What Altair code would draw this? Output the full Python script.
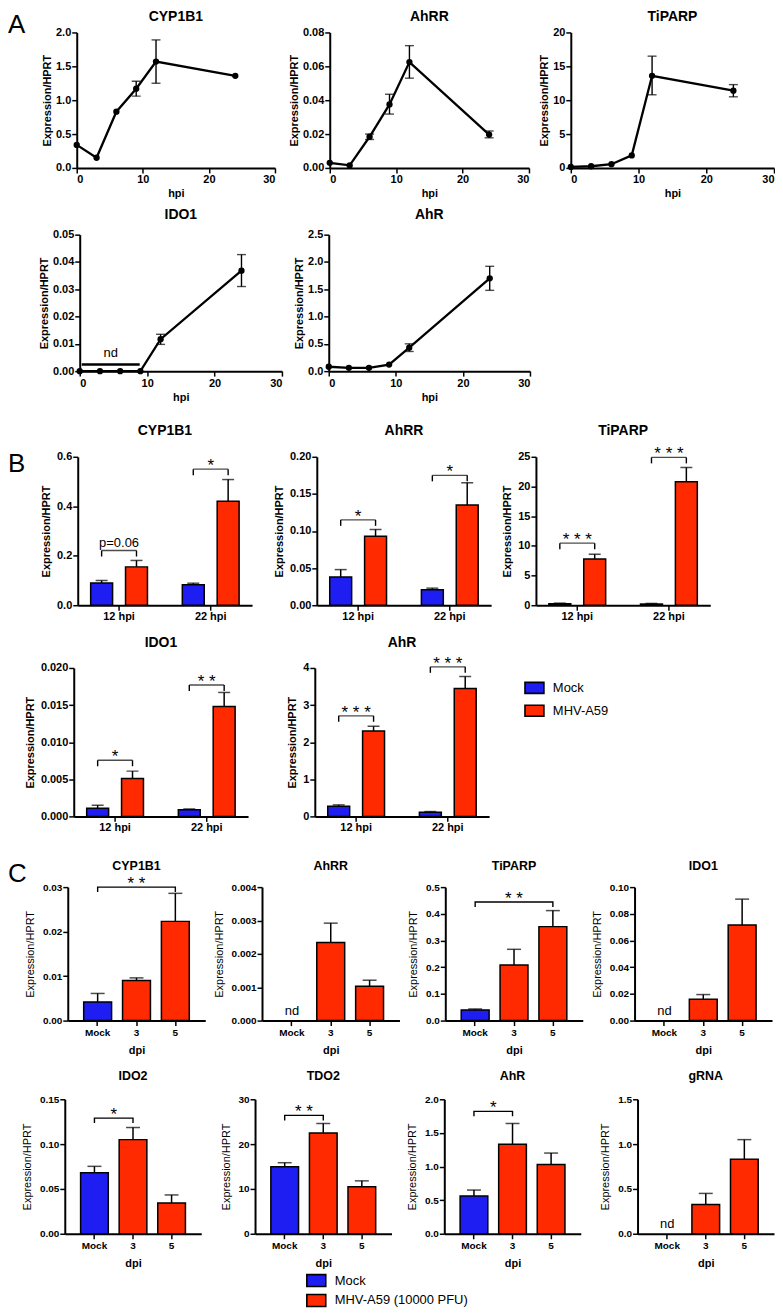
import altair as alt
import pandas as pd

FONT = "Liberation Sans"
BLUE = "#1e1ef2"
RED = "#ff2a00"
SERIES = ["Mock", "MHV"]
COLOR = alt.Scale(domain=SERIES, range=[BLUE, RED])

# ---------------- Section A : time course ----------------
hpi = [0, 3, 6, 9, 12, 24]

a_cyp1b1 = [0.34, 0.15, 0.83, 1.17, 1.57, 1.36]
a_cyp1b1_lo = [0.34, 0.15, 0.83, 1.06, 1.25, 1.36]
a_cyp1b1_hi = [0.34, 0.15, 0.83, 1.28, 1.89, 1.36]

a_ahrr = [0.0030, 0.0015, 0.0184, 0.0375, 0.0625, 0.0197]
a_ahrr_lo = [0.0030, 0.0015, 0.0168, 0.0318, 0.0530, 0.0178]
a_ahrr_hi = [0.0030, 0.0015, 0.0200, 0.0435, 0.0722, 0.0218]

a_tiparp = [0.15, 0.25, 0.55, 1.85, 13.6, 11.4]
a_tiparp_lo = [0.15, 0.25, 0.55, 1.85, 10.8, 10.5]
a_tiparp_hi = [0.15, 0.25, 0.55, 1.85, 16.5, 12.3]

a_ido1 = [0.0, 0.0, 0.0, 0.0, 0.0117, 0.0368]
a_ido1_lo = [0.0, 0.0, 0.0, 0.0, 0.0098, 0.0310]
a_ido1_hi = [0.0, 0.0, 0.0, 0.0, 0.0135, 0.0427]
a_ido1_nd_range = [0.3, 8.9]
a_ido1_nd_level = 0.0024

a_ahr = [0.08, 0.06, 0.06, 0.12, 0.43, 1.70]
a_ahr_lo = [0.08, 0.06, 0.06, 0.12, 0.36, 1.48]
a_ahr_hi = [0.08, 0.06, 0.06, 0.12, 0.50, 1.92]

# ---------------- Section B : 12 / 22 hpi ----------------
b_groups = ["12 hpi", "22 hpi"]

b_cyp1b1_mock = [0.090, 0.083]
b_cyp1b1_mock_top = [0.100, 0.089]
b_cyp1b1_mhv = [0.155, 0.420]
b_cyp1b1_mhv_top = [0.181, 0.508]
b_cyp1b1_sig = [0.221, 0.550]
b_cyp1b1_sig_text = ["p=0.06", "*"]

b_ahrr_mock = [0.038, 0.021]
b_ahrr_mock_top = [0.048, 0.023]
b_ahrr_mhv = [0.093, 0.135]
b_ahrr_mhv_top = [0.102, 0.165]
b_ahrr_sig = [0.115, 0.175]
b_ahrr_sig_text = ["*", "*"]

b_tiparp_mock = [0.25, 0.20]
b_tiparp_mock_top = [0.35, 0.30]
b_tiparp_mhv = [7.8, 20.8]
b_tiparp_mhv_top = [8.6, 23.2]
b_tiparp_sig = [10.45, 24.9]
b_tiparp_sig_text = ["***", "***"]

b_ido1_mock = [0.0011, 0.00088]
b_ido1_mock_top = [0.0015, 0.0010]
b_ido1_mhv = [0.0051, 0.0148]
b_ido1_mhv_top = [0.0061, 0.0167]
b_ido1_sig = [0.00756, 0.0177]
b_ido1_sig_text = ["*", "**"]

b_ahr_mock = [0.27, 0.11]
b_ahr_mock_top = [0.31, 0.13]
b_ahr_mhv = [2.30, 3.45]
b_ahr_mhv_top = [2.43, 3.77]
b_ahr_sig = [2.71, 4.03]
b_ahr_sig_text = ["***", "***"]

b_legend_labels = ["Mock", "MHV-A59"]

# ---------------- Section C : dpi ----------------
c_cats = ["Mock", "3", "5"]

c_cyp1b1 = [0.0042, 0.0090, 0.0223]
c_cyp1b1_top = [0.0061, 0.0096, 0.0286]
c_ahrr = [None, 0.00234, 0.00103]
c_ahrr_top = [None, 0.00292, 0.00121]
c_tiparp = [0.040, 0.208, 0.352]
c_tiparp_top = [0.0435, 0.267, 0.412]
c_ido1 = [None, 0.0159, 0.0716]
c_ido1_top = [None, 0.0195, 0.0910]
c_ido2 = [0.0680, 0.1050, 0.0343]
c_ido2_top = [0.0752, 0.1185, 0.0433]
c_tdo2 = [14.95, 22.5, 10.5]
c_tdo2_top = [15.85, 24.6, 11.8]
c_ahr = [0.56, 1.33, 1.03]
c_ahr_top = [0.65, 1.64, 1.20]
c_grna = [None, 0.325, 0.83]
c_grna_top = [None, 0.45, 1.05]

c_legend_labels = ["Mock", "MHV-A59 (10000 PFU)"]

# ---------------- styles ----------------
AX_A = dict(domainColor="black", domainWidth=2, tickColor="black", tickWidth=1.5,
            tickSize=5, labelFontSize=11, labelFontWeight="bold", labelColor="black",
            labelPadding=1, titleFontSize=11, titleFontWeight="bold", titleColor="black",
            grid=False, labelFont=FONT, titleFont=FONT, labelOverlap=False, tickCount=40)
AX_B = dict(AX_A)
AX_C = dict(domainColor="black", domainWidth=2, tickColor="black", tickWidth=1.5,
            tickSize=5, labelFontSize=10, labelFontWeight="bold", labelColor="black",
            labelPadding=1, titleFontSize=11, titleColor="black",
            grid=False, labelFont=FONT, titleFont=FONT, labelOverlap=False, tickCount=40)


def spaced(s):
    return " ".join(s) if set(s) == {"*"} else s


def title_mark(text, size, width, dy):
    return alt.Chart(pd.DataFrame({"t": [text]})).mark_text(
        fontSize=size, fontWeight="bold", align="center", baseline="middle",
        color="black", font=FONT
    ).encode(text="t:N", x=alt.value(width / 2.0), y=alt.value(dy))


def letter(ch, dx, dy):
    return alt.Chart(pd.DataFrame({"t": [ch]})).mark_text(
        fontSize=26, align="left", baseline="middle", color="black", font=FONT
    ).encode(text="t:N", x=alt.value(dx), y=alt.value(dy))


def line_panel(title, mean, lo, hi, ymax, yticks, yfmt, width, height, tdy, extra=()):
    df = pd.DataFrame({"hpi": hpi, "v": mean, "lo": lo, "hi": hi})
    base = alt.Chart(df)
    x = alt.X("hpi:Q", scale=alt.Scale(domain=[0, 30], nice=False),
              axis=alt.Axis(values=[0, 10, 20, 30], title="hpi", titlePadding=3, **AX_A))
    y = alt.Y("v:Q", scale=alt.Scale(domain=[0, ymax], nice=False),
              axis=alt.Axis(values=yticks, format=yfmt, title="Expression/HPRT",
                            titlePadding=3, **AX_A))
    line = base.mark_line(color="black", strokeWidth=2.3).encode(x=x, y=y)
    pts = base.mark_circle(color="black", size=40, opacity=1).encode(x="hpi:Q", y="v:Q")
    eb = base.transform_filter("datum.hi > datum.lo")
    err = eb.mark_rule(color="black", strokeWidth=1.4).encode(x="hpi:Q", y="lo:Q", y2="hi:Q")
    cap1 = eb.mark_tick(orient="horizontal", size=9, thickness=1.4, color="black").encode(
        x="hpi:Q", y="lo:Q")
    cap2 = eb.mark_tick(orient="horizontal", size=9, thickness=1.4, color="black").encode(
        x="hpi:Q", y="hi:Q")
    layers = [line, err, cap1, cap2, pts, title_mark(title, 14, width, tdy)] + list(extra)
    return alt.layer(*layers).properties(width=width, height=height)


def bar_b(title, mock, mock_top, mhv, mhv_top, sig, sig_text, ymax, yticks, yfmt,
          width, height, tdy, extra=()):
    df = pd.DataFrame({"g": b_groups * 2, "s": ["Mock"] * 2 + ["MHV"] * 2,
                       "v": mock + mhv, "top": mock_top + mhv_top})
    base = alt.Chart(df)
    x = alt.X("g:N", sort=b_groups,
              scale=alt.Scale(domain=b_groups, paddingInner=0.2, paddingOuter=0.051),
              axis=alt.Axis(title=None, labelAngle=0, **dict(AX_B, labelPadding=0)))
    xo = alt.XOffset("s:N", sort=SERIES,
                     scale=alt.Scale(domain=SERIES, paddingInner=0.371, paddingOuter=0.237))
    y = alt.Y("v:Q", scale=alt.Scale(domain=[0, ymax], nice=False),
              axis=alt.Axis(values=yticks, format=yfmt, title="Expression/HPRT",
                            titlePadding=5, **AX_B))
    err = base.mark_rule(color="black", strokeWidth=1.5).encode(
        x=x, xOffset=xo, y=y, y2="top:Q")
    cap = base.mark_tick(orient="horizontal", size=12, thickness=1.5, color="black").encode(
        x="g:N", xOffset="s:N", y="top:Q")
    bars = base.mark_bar(stroke="black", strokeWidth=1.5).encode(
        x="g:N", xOffset="s:N", y="v:Q",
        color=alt.Color("s:N", scale=COLOR, legend=None))
    d = 6.0 / height * ymax
    sdf = pd.DataFrame({"g": b_groups, "lv": sig, "lab": [spaced(t) for t in sig_text]})
    ldf = pd.DataFrame({"g": [g for g in b_groups for _ in SERIES],
                        "s": SERIES * 2,
                        "lv": [l for l in sig for _ in SERIES],
                        "lo": [l - d for l in sig for _ in SERIES]})
    btop = alt.Chart(sdf).mark_tick(orient="horizontal", size=35, thickness=1.4,
                                    color="black").encode(x="g:N", y="lv:Q")
    blegs = alt.Chart(ldf).mark_rule(color="black", strokeWidth=1.4).encode(
        x="g:N", xOffset="s:N", y="lv:Q", y2="lo:Q")
    stars = alt.Chart(sdf).transform_filter("indexof(datum.lab, '*') >= 0").mark_text(
        fontSize=17, baseline="alphabetic", dy=2, color="black", font=FONT
    ).encode(x="g:N", y="lv:Q", text="lab:N")
    ptxt = alt.Chart(sdf).transform_filter("indexof(datum.lab, '*') < 0").mark_text(
        fontSize=13, baseline="alphabetic", dy=-4, color="black", font=FONT
    ).encode(x="g:N", y="lv:Q", text="lab:N")
    layers = [err, cap, bars, btop, blegs, stars, ptxt,
              title_mark(title, 14, width, tdy)] + list(extra)
    return alt.layer(*layers).properties(width=width, height=height)


def bar_c(title, vals, tops, ymax, yticks, yfmt, width, height, tdy,
          bracket=None, nd=False, extra=()):
    series = ["Mock" if c == "Mock" else "MHV" for c in c_cats]
    df = pd.DataFrame({"c": c_cats, "s": series, "v": vals, "top": tops})
    base = alt.Chart(df).transform_filter("isValid(datum.v)")
    x = alt.X("c:N", sort=c_cats,
              scale=alt.Scale(domain=c_cats, paddingInner=0.282, paddingOuter=0.41),
              axis=alt.Axis(title="dpi", labelAngle=0, titlePadding=7,
                            titleFontWeight="bold", **dict(AX_C, labelPadding=2)))
    y = alt.Y("v:Q", scale=alt.Scale(domain=[0, ymax], nice=False),
              axis=alt.Axis(values=yticks, format=yfmt, title="Expression/HPRT",
                            titlePadding=7, titleFontWeight="normal", **AX_C))
    err = base.mark_rule(color="black", strokeWidth=1.5).encode(x=x, y=y, y2="top:Q")
    cap = base.mark_tick(orient="horizontal", size=14, thickness=1.5, color="black").encode(
        x="c:N", y="top:Q")
    bars = base.mark_bar(stroke="black", strokeWidth=1.5).encode(
        x="c:N", y="v:Q", color=alt.Color("s:N", scale=COLOR, legend=None))
    layers = [err, cap, bars]
    if bracket is not None:
        a, b, lv, lab = bracket
        d = 5.0 / height * ymax
        bk = pd.DataFrame({"c": [a, a, b, b], "yy": [lv - d, lv, lv, lv - d], "o": [0, 1, 2, 3]})
        layers.append(alt.Chart(bk).mark_line(color="black", strokeWidth=1.4).encode(
            x="c:N", y="yy:Q", order="o:Q"))
        step = width / (3 - 0.282 + 2 * 0.41)
        shift = (c_cats.index(b) - c_cats.index(a)) * step / 2
        tdf = pd.DataFrame({"c": [a], "lv": [lv], "lab": [spaced(lab)]})
        layers.append(alt.Chart(tdf).mark_text(
            fontSize=17, baseline="alphabetic", dy=2, dx=shift, color="black", font=FONT
        ).encode(x="c:N", y="lv:Q", text="lab:N"))
    if nd:
        ndf = pd.DataFrame({"c": ["Mock"], "v": [0.0], "t": ["nd"]})
        layers.append(alt.Chart(ndf).mark_text(
            fontSize=13, baseline="alphabetic", dy=-6, color="black", font=FONT
        ).encode(x="c:N", y="v:Q", text="t:N"))
    layers.append(title_mark(title, 12.5, width, tdy))
    layers += list(extra)
    return alt.layer(*layers).properties(width=width, height=height)


def legend_view(labels, width, height, ys, box_h):
    df = pd.DataFrame({"label": labels, "s": SERIES})
    yy = alt.Y("label:N", axis=None, sort=labels,
               scale=alt.Scale(domain=labels, range=ys, padding=0))
    shape = "M-1,-{h}L1,-{h}L1,{h}L-1,{h}Z".format(h=round(box_h / 19.0, 3))
    sym = alt.Chart(df).mark_point(shape=shape, size=361, filled=True, opacity=1,
                                   stroke="black", strokeWidth=1.6).encode(
        x=alt.value(9.5), y=yy, color=alt.Color("s:N", scale=COLOR, legend=None))
    txt = alt.Chart(df).mark_text(align="left", baseline="middle", fontSize=13,
                                  color="black", font=FONT).encode(
        x=alt.value(28), y=yy, text="label:N")
    return alt.layer(sym, txt).properties(width=width, height=height)


def spacer(w, h):
    return alt.Chart(pd.DataFrame({"z": [0]})).mark_point(opacity=0).encode(
        x=alt.value(0), y=alt.value(0)).properties(width=w, height=h)


ORIGIN_X = 65


def hrow(items):
    parts = []
    cur = ORIGIN_X
    for px, w, ch in items:
        gap = px - cur
        if gap > 0:
            parts.append(spacer(gap, 1))
        parts.append(ch)
        cur = px + w
    return alt.hconcat(*parts, spacing=0, bounds="flush")


# ---------------- panels ----------------
pA_cyp = line_panel("CYP1B1", a_cyp1b1, a_cyp1b1_lo, a_cyp1b1_hi, 2.0,
                    [0, 0.5, 1.0, 1.5, 2.0], ".1f", 199, 136, -15,
                    extra=[letter("A", -69, -7)])
pA_ahrr = line_panel("AhRR", a_ahrr, a_ahrr_lo, a_ahrr_hi, 0.08,
                     [0, 0.02, 0.04, 0.06, 0.08], ".2f", 200, 136, -15)
pA_tip = line_panel("TiPARP", a_tiparp, a_tiparp_lo, a_tiparp_hi, 20,
                    [0, 5, 10, 15, 20], "d", 204, 136, -15)

nd_df = pd.DataFrame({"x0": [a_ido1_nd_range[0]], "x1": [a_ido1_nd_range[1]],
                      "y": [a_ido1_nd_level], "xm": [sum(a_ido1_nd_range) / 2],
                      "yt": [0.0051], "t": ["nd"]})
nd_rule = alt.Chart(nd_df).mark_rule(color="black", strokeWidth=2.5).encode(
    x="x0:Q", x2="x1:Q", y="y:Q")
nd_text = alt.Chart(nd_df).mark_text(fontSize=13, baseline="alphabetic", color="black",
                                     font=FONT).encode(x="xm:Q", y="yt:Q", text="t:N")
pA_ido = line_panel("IDO1", a_ido1, a_ido1_lo, a_ido1_hi, 0.05,
                    [0, 0.01, 0.02, 0.03, 0.04, 0.05], ".2f", 203, 137, -20,
                    extra=[nd_rule, nd_text])
pA_ahr = line_panel("AhR", a_ahr, a_ahr_lo, a_ahr_hi, 2.5,
                    [0, 0.5, 1.0, 1.5, 2.0, 2.5], ".1f", 202, 137, -20)

pB_cyp = bar_b("CYP1B1", b_cyp1b1_mock, b_cyp1b1_mock_top, b_cyp1b1_mhv, b_cyp1b1_mhv_top,
               b_cyp1b1_sig, b_cyp1b1_sig_text, 0.6, [0, 0.2, 0.4, 0.6], ".1f",
               175, 149, -26, extra=[letter("B", -70, 7)])
pB_ahrr = bar_b("AhRR", b_ahrr_mock, b_ahrr_mock_top, b_ahrr_mhv, b_ahrr_mhv_top,
                b_ahrr_sig, b_ahrr_sig_text, 0.20, [0, 0.05, 0.10, 0.15, 0.20], ".2f",
                175, 149, -26)
pB_tip = bar_b("TiPARP", b_tiparp_mock, b_tiparp_mock_top, b_tiparp_mhv, b_tiparp_mhv_top,
               b_tiparp_sig, b_tiparp_sig_text, 25, [0, 5, 10, 15, 20, 25], "d",
               175, 149, -26)
pB_ido = bar_b("IDO1", b_ido1_mock, b_ido1_mock_top, b_ido1_mhv, b_ido1_mhv_top,
               b_ido1_sig, b_ido1_sig_text, 0.020, [0, 0.005, 0.010, 0.015, 0.020], ".3f",
               175, 149, -25)
pB_ahr = bar_b("AhR", b_ahr_mock, b_ahr_mock_top, b_ahr_mhv, b_ahr_mhv_top,
               b_ahr_sig, b_ahr_sig_text, 4, [0, 1, 2, 3, 4], "d",
               175, 149, -25)
legB = legend_view(b_legend_labels, 130, 149, [20, 43], 11)

pC_cyp = bar_c("CYP1B1", c_cyp1b1, c_cyp1b1_top, 0.03, [0, 0.01, 0.02, 0.03], ".2f",
               138, 134, -21, bracket=("Mock", "5", 0.030, "**"),
               extra=[letter("C", -60, -13)])
pC_ahrr = bar_c("AhRR", c_ahrr, c_ahrr_top, 0.004, [0, 0.001, 0.002, 0.003, 0.004], ".3f",
                138, 134, -21, nd=True)
pC_tip = bar_c("TiPARP", c_tiparp, c_tiparp_top, 0.5, [0, 0.1, 0.2, 0.3, 0.4, 0.5], ".1f",
               138, 134, -21, bracket=("Mock", "5", 0.444, "**"))
pC_ido1 = bar_c("IDO1", c_ido1, c_ido1_top, 0.10, [0, 0.02, 0.04, 0.06, 0.08, 0.10], ".2f",
                138, 134, -21, nd=True)
pC_ido2 = bar_c("IDO2", c_ido2, c_ido2_top, 0.15, [0, 0.05, 0.10, 0.15], ".2f",
                137, 135, -23, bracket=("Mock", "3", 0.129, "*"))
pC_tdo2 = bar_c("TDO2", c_tdo2, c_tdo2_top, 30, [0, 10, 20, 30], "d",
                137, 135, -23, bracket=("Mock", "3", 26.4, "**"))
pC_ahr = bar_c("AhR", c_ahr, c_ahr_top, 2.0, [0, 0.5, 1.0, 1.5, 2.0], ".1f",
               137, 135, -23, bracket=("Mock", "3", 1.82, "*"))
pC_grna = bar_c("gRNA", c_grna, c_grna_top, 1.5, [0, 0.5, 1.0, 1.5], ".1f",
                137, 135, -23, nd=True)
legC = legend_view(c_legend_labels, 170, 40, [13, 33], 12)

rows = [
    (30, [(77, 199, pA_cyp), (331, 200, pA_ahrr), (573, 204, pA_tip)]),
    (233, [(80, 203, pA_ido), (330, 202, pA_ahr)]),
    (456, [(78, 175, pB_cyp), (318, 175, pB_ahrr), (538, 175, pB_tip)]),
    (668, [(74, 175, pB_ido), (316, 175, pB_ahr), (527, 130, legB)]),
    (888, [(68, 138, pC_cyp), (263, 138, pC_ahrr), (447, 138, pC_tip),
           (637, 138, pC_ido1)]),
    (1101, [(65, 137, pC_ido2), (256, 137, pC_tdo2), (446, 137, pC_ahr),
            (640, 137, pC_grna)]),
    (1270, [(308, 170, legC)]),
]

# nested rows take no height in a flush stack, so each vertical spacer
# carries the distance between consecutive row tops
ROW_H = 0
stack = []
prev_top = None
for top, items in rows:
    if prev_top is not None:
        stack.append(spacer(1, top - prev_top - ROW_H))
    stack.append(hrow(items))
    prev_top = top

chart = alt.vconcat(*stack, spacing=0, bounds="flush").properties(
    padding=0, background="white"
).configure(font=FONT).configure_view(stroke=None)

chart.save("out.html", embed_options={"renderer": "svg", "actions": False})
